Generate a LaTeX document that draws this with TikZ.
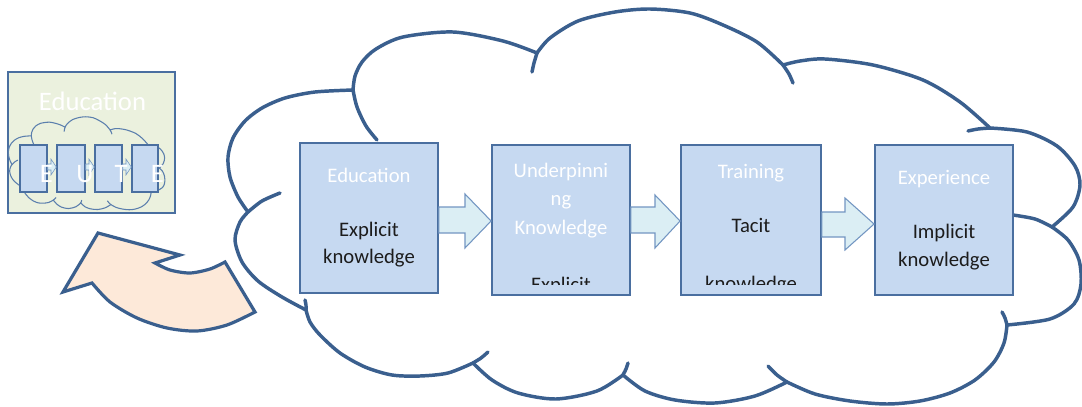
\documentclass[tikz,border=0pt]{standalone}
\usepackage{fontspec}
\setmainfont{Carlito}
\usetikzlibrary{fit,calc}
\definecolor{cloudline}{HTML}{3A5F8E}
\definecolor{boxfill}{HTML}{C6D9F1}
\definecolor{boxline}{HTML}{4A6FA0}
\definecolor{arrfill}{HTML}{DBEEF4}
\definecolor{arrline}{HTML}{7396C2}
\definecolor{thumbfill}{HTML}{EBF1DE}
\definecolor{peach}{HTML}{FDE9D9}
\definecolor{bodytext}{HTML}{1C1C1C}
\definecolor{minicloud}{HTML}{5B7FAD}

\newcommand\cloudoutline{%
 plot[smooth] coordinates {(248,212)(238,197)(230,177)(228,157)(233,138)(245,121)(262,108)(285,98)(315,92)(353,90)}
 -- plot[smooth] coordinates {(353,90)(355,76)(362,62)(376,49)(403,37)(453,32)(503,41)(537,53)}
 -- plot[smooth] coordinates {(537,53)(550,38)(578,21)(615,12)(650,9)(690,13)(723,25)(757,42)(783,65)}
 -- plot[smooth] coordinates {(783,65)(800,61)(825,59)(873,65)(923,80)(960,102)(990,128)}
 -- plot[smooth] coordinates {(990,128)(1027,132)(1057,146)(1075,166)(1080,185)(1073,207)(1052,227)}
 -- plot[smooth] coordinates {(1052,227)(1068,240)(1079,260)(1081,284)(1074,304)(1050,319)(1007,325)}
 -- plot[smooth] coordinates {(1007,325)(1004,343)(994,362)(975,380)(950,393)(920,401)(887,404)(850,401)(815,394)(787,382)}
 -- plot[smooth] coordinates {(787,382)(755,396)(715,403)(675,400)(645,391)(623,375)}
 -- plot[smooth] coordinates {(623,375)(597,391)(556,399)(518,393)(492,380)(473,363)}
 -- plot[smooth] coordinates {(473,363)(448,373)(420,376)(392,375)(365,367)(340,353)(320,335)(310,322)(306,310)}
 -- plot[smooth] coordinates {(306,310)(282,297)(258,281)(242,262)(235,240)(240,222)(248,212)}
 -- cycle}
\newcommand\cloudstubs{%
 plot[smooth] coordinates {(353,90)(357,107)(366,126)(377,140)}
 plot[smooth] coordinates {(537,53)(534,63)(532,72)}
 plot[smooth] coordinates {(783,65)(789,74)(793,83)}
 plot[smooth] coordinates {(990,128)(978,129)(968,131)}
 plot[smooth] coordinates {(1052,227)(1035,219)(1013,215)}
 plot[smooth] coordinates {(1007,325)(1005,318)(1002,312)}
 plot[smooth] coordinates {(787,382)(777,375)(768,366)}
 plot[smooth] coordinates {(623,375)(626,369)(628,363)}
 plot[smooth] coordinates {(473,363)(481,358)(488,352)}
 plot[smooth] coordinates {(306,310)(306,305)(305,300)}
 plot[smooth] coordinates {(248,212)(262,201)(280,193)}}

\tikzset{
 bigcloud/.style={draw=cloudline, line width=2.6pt, fill=white, line join=round},
 bigstub/.style={draw=cloudline, line width=2.6pt, line cap=round},
 smallcloud/.style={draw=minicloud, line width=0.8pt},
 stagebox/.style={draw=boxline, fill=boxfill, line width=1.4pt, inner sep=0pt},
 ministage/.style={draw=boxline, fill=boxfill, line width=1.1pt, inner sep=0pt},
 blockarr/.style={draw=arrline, fill=arrfill, line width=0.8pt, line join=miter},
 hd/.style={text=white, anchor=base, inner sep=0pt, font=\fontsize{15.5}{19}\selectfont},
 bd/.style={text=bodytext, anchor=base, inner sep=0pt, font=\fontsize{15.5}{19}\selectfont},
 thumbtxt/.style={text=white, anchor=base, inner sep=0pt, font=\fontsize{20}{24}\selectfont},
 curvarrow/.style={draw=cloudline, fill=peach, line width=2.4pt, line join=miter},
}

\begin{document}
\begin{tikzpicture}[x=0.75pt, y=-0.75pt]
\useasboundingbox (0,0) rectangle (1082,407);

% big cloud
\path[bigcloud] \cloudoutline;
\path[bigstub] \cloudstubs;

% thumbnail
\node[draw=boxline, fill=thumbfill, line width=1.8pt, inner sep=0pt, fit={(8,72)(175,213)}] (thumb) {};
\node[thumbtxt] (thumbtitle) at (92.5,110) {Education};
\begin{scope}[shift={(-33.45,114.65)}, xscale=0.1834, yscale=0.2354]
 \path[smallcloud] \cloudoutline;
 \path[smallcloud] \cloudstubs;
\end{scope}
\node[ministage, fit={(20,145)(47,192)}] (m1) {};
\node[ministage, fit={(57,145)(85,192)}] (m2) {};
\node[ministage, fit={(95,145)(122,192)}] (m3) {};
\node[ministage, fit={(132,145)(158,192)}] (m4) {};
\draw[blockarr, line width=0.4pt] (m1.east |- 0,164) -- (51,164) -- (51,159) -- (m2.west |- 0,167) -- (51,175) -- (51,170) -- (m1.east |- 0,170) -- cycle;
\draw[blockarr, line width=0.4pt] (m2.east |- 0,164) -- (89,164) -- (89,159) -- (m3.west |- 0,167) -- (89,175) -- (89,170) -- (m2.east |- 0,170) -- cycle;
\draw[blockarr, line width=0.4pt] (m3.east |- 0,164) -- (126,164) -- (126,159) -- (m4.west |- 0,167) -- (126,175) -- (126,170) -- (m3.east |- 0,170) -- cycle;
\node[thumbtxt] (l1) at (46.5,182) {E};
\node[thumbtxt] (l2) at (85,182) {U};
\node[thumbtxt] (l3) at (121,182) {T};
\node[thumbtxt] (l4) at (157.5,182) {E};

% curved arrow
\draw[curvarrow] (63,292) -- (98,233) -- (180,255) -- (155,263)
 -- plot[smooth] coordinates {(155,263)(170,270)(190,273)(210,269)(225,262)}
 -- (255,312)
 -- plot[smooth] coordinates {(255,312)(227,325)(197,331)(167,328)(137,318)(110,302)(92,283)}
 -- cycle;

% stage boxes
\node[stagebox, fit={(300,143)(438,293)}] (b1) {};
\node[stagebox, fit={(492,145)(630,295)}] (b2) {};
\node[stagebox, fit={(681,145)(821,295)}] (b3) {};
\node[stagebox, fit={(875,145)(1013,295)}] (b4) {};

% block arrows
\draw[blockarr] (b1.east |- 0,207) -- (465,207) -- (465,194) -- (b2.west |- 0,221) -- (465,248) -- (465,233) -- (b1.east |- 0,233) -- cycle;
\draw[blockarr] (b2.east |- 0,207) -- (655,207) -- (655,195) -- (b3.west |- 0,221) -- (655,248) -- (655,233) -- (b2.east |- 0,233) -- cycle;
\draw[blockarr] (b3.east |- 0,212) -- (845,212) -- (845,198) -- (b4.west |- 0,224) -- (845,250) -- (845,237) -- (b3.east |- 0,237) -- cycle;

% texts
\node[hd] (t1a) at (369,182) {Education};
\node[bd] (t1b) at (369,236) {Explicit};
\node[bd] (t1c) at (369,263) {knowledge};

\begin{scope}
 \clip (b2.north west) rectangle (b2.east |- 0,284);
 \node[hd] (t2a) at (561,177) {Underpinni};
 \node[hd] (t2b) at (561,205.5) {ng};
 \node[hd] (t2c) at (561,234) {Knowledge};
 \node[bd] (t2d) at (561,291) {Explicit};
\end{scope}

\begin{scope}
 \clip (b3.north west) rectangle (b3.east |- 0,284);
 \node[hd] (t3a) at (751,178) {Training};
 \node[bd] (t3b) at (751,232) {Tacit};
 \node[bd] (t3c) at (751,290) {knowledge};
\end{scope}

\node[hd] (t4a) at (944,184) {Experience};
\node[bd] (t4b) at (944,238) {Implicit};
\node[bd] (t4c) at (944,266) {knowledge};
\end{tikzpicture}
\end{document}
